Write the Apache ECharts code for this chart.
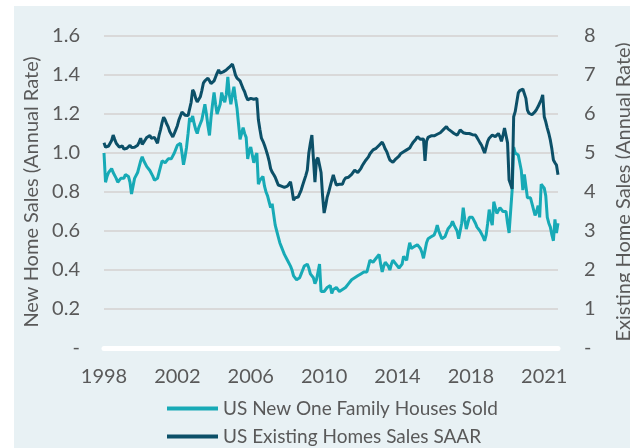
<!DOCTYPE html>
<html>
<head>
<meta charset="utf-8">
<script src="https://cdn.jsdelivr.net/npm/echarts@6/dist/echarts.min.js"></script>
<style>
  html, body { margin: 0; padding: 0; background: #ffffff; overflow: hidden; }
  #main { position: absolute; left: 14px; top: 6px; width: 616px; height: 442px; background: #e8f1f4; }
</style>
</head>
<body>
<div id="main"></div>
<script>
// x-axis tick labels, one every 48 months
var tickLabels = ["1998", "2002", "2006", "2010", "2014", "2018", "2021"];

// US New One Family Houses Sold, millions (monthly)
var newHomeSales = [
  1.0, 0.85, 0.88, 0.9, 0.91, 0.92, 0.9, 0.9, 0.87, 0.85,
  0.86, 0.87, 0.88, 0.87, 0.89, 0.9, 0.88, 0.85, 0.79, 0.83,
  0.87, 0.88, 0.9, 0.93, 0.96, 0.98, 0.96, 0.95, 0.93, 0.92,
  0.91, 0.9, 0.88, 0.86, 0.87, 0.87, 0.9, 0.93, 0.96, 0.95,
  0.95, 0.96, 0.97, 0.98, 0.97, 0.96, 1.0, 1.02, 1.04, 1.03,
  1.05, 1.0, 0.94, 0.98, 1.03, 1.1, 1.18, 1.16, 1.19, 1.15,
  1.12, 1.1, 1.13, 1.15, 1.17, 1.21, 1.25, 1.2, 1.14, 1.09,
  1.18, 1.25, 1.31, 1.25, 1.2, 1.19, 1.25, 1.31, 1.28, 1.26,
  1.3, 1.39, 1.3, 1.25, 1.3, 1.34, 1.28, 1.23, 1.15, 1.07,
  1.1, 1.13, 1.1, 1.08, 0.97, 1.01, 1.03, 1.04, 0.95, 0.98,
  1.0, 0.84, 0.86, 0.87, 0.88, 0.83, 0.8, 0.78, 0.75, 0.72,
  0.74, 0.73, 0.63, 0.6, 0.57, 0.54, 0.52, 0.5, 0.48, 0.47,
  0.45, 0.44, 0.42, 0.4, 0.37, 0.36, 0.35, 0.35, 0.36, 0.38,
  0.4, 0.42, 0.43, 0.43, 0.41, 0.38, 0.37, 0.36, 0.33, 0.35,
  0.39, 0.43, 0.29, 0.3, 0.29, 0.29, 0.31, 0.3, 0.32, 0.28,
  0.3, 0.31, 0.31, 0.3, 0.29, 0.3, 0.3, 0.31, 0.31, 0.32,
  0.33, 0.34, 0.35, 0.35, 0.36, 0.36, 0.37, 0.37, 0.38, 0.38,
  0.39, 0.39, 0.39, 0.42, 0.45, 0.44, 0.44, 0.44, 0.46, 0.47,
  0.48, 0.43, 0.39, 0.42, 0.44, 0.43, 0.42, 0.4, 0.43, 0.45,
  0.44, 0.43, 0.43, 0.41, 0.4, 0.43, 0.47, 0.46, 0.45, 0.5,
  0.54, 0.51, 0.5, 0.52, 0.52, 0.53, 0.52, 0.51, 0.49, 0.46,
  0.5, 0.54, 0.56, 0.57, 0.57, 0.58, 0.58, 0.6, 0.63, 0.6,
  0.58, 0.56, 0.57, 0.57, 0.59, 0.61, 0.62, 0.63, 0.65, 0.63,
  0.62, 0.6, 0.56, 0.6, 0.64, 0.72, 0.66, 0.61, 0.64, 0.67,
  0.67, 0.67, 0.66, 0.64, 0.62, 0.61, 0.6, 0.59, 0.57, 0.55,
  0.58, 0.64, 0.71, 0.66, 0.63, 0.75, 0.72, 0.69, 0.7, 0.72,
  0.71, 0.7, 0.7, 0.7, 0.64, 0.59, 0.59, 0.81, 1.03, 1.0,
  0.99, 0.99, 0.95, 0.91, 0.81, 0.89, 0.83, 0.77, 0.77, 0.77,
  0.74, 0.71, 0.68, 0.7, 0.73, 0.67, 0.84, 0.84, 0.82, 0.78,
  0.67, 0.64, 0.62, 0.58, 0.55, 0.66, 0.59, 0.64
];

// US Existing Homes Sales SAAR, millions (monthly)
var existingHomeSales = [
  5.26, 5.15, 5.12, 5.18, 5.2, 5.32, 5.46, 5.35, 5.25, 5.2,
  5.15, 5.12, 5.18, 5.1, 5.15, 5.12, 5.16, 5.2, 5.14, 5.12,
  5.15, 5.2, 5.2, 5.28, 5.38, 5.22, 5.28, 5.34, 5.4, 5.38,
  5.45, 5.38, 5.35, 5.4, 5.42, 5.25, 5.45, 5.6, 5.78, 5.92,
  5.85, 5.75, 5.67, 5.55, 5.48, 5.41, 5.5, 5.6, 5.7, 5.85,
  5.95, 6.05, 6.0, 5.97, 6.0, 5.96, 5.98, 6.3, 6.62, 6.55,
  6.4, 6.31, 6.36, 6.44, 6.6, 6.79, 6.85, 6.88, 6.92, 6.85,
  6.78, 6.74, 6.85, 6.95, 7.05, 7.13, 7.05, 7.0, 7.08, 7.1,
  7.13, 7.15, 7.2, 7.22, 7.28, 7.15, 7.0, 6.92, 6.88, 6.85,
  6.75, 6.65, 6.57, 6.45, 6.36, 6.38, 6.4, 6.41, 6.38, 6.42,
  6.4, 5.85, 5.6, 5.38, 5.3, 5.2, 5.08, 4.95, 4.8, 4.6,
  4.51, 4.45, 4.38, 4.28, 4.18, 4.15, 4.15, 4.13, 4.12, 4.15,
  4.15, 4.2, 4.26, 4.05, 3.79, 3.85, 3.9, 3.87, 3.92, 4.05,
  4.18, 4.3, 4.42, 4.56, 5.0, 5.25, 5.46, 4.85, 4.25, 4.82,
  4.88, 4.9, 4.5, 3.9, 3.46, 3.65, 3.87, 4.0, 4.15, 4.3,
  4.44, 4.3, 4.18, 4.22, 4.2, 4.2, 4.2, 4.3, 4.36, 4.32,
  4.38, 4.4, 4.45, 4.5, 4.56, 4.55, 4.5, 4.51, 4.6, 4.68,
  4.74, 4.8, 4.85, 4.9, 4.98, 5.02, 5.08, 5.1, 5.12, 5.15,
  5.2, 5.24, 5.28, 5.2, 5.1, 5.03, 4.92, 4.82, 4.77, 4.76,
  4.8, 4.85, 4.9, 4.92, 4.98, 5.0, 5.03, 5.08, 5.08, 5.1,
  5.13, 5.2, 5.26, 5.3, 5.35, 5.42, 5.38, 5.35, 5.33, 5.36,
  4.8, 5.3, 5.4, 5.42, 5.44, 5.46, 5.44, 5.46, 5.48, 5.5,
  5.52, 5.55, 5.6, 5.64, 5.68, 5.62, 5.58, 5.56, 5.55, 5.5,
  5.48, 5.46, 5.52, 5.59, 5.55, 5.52, 5.51, 5.5, 5.52, 5.5,
  5.48, 5.47, 5.46, 5.46, 5.4, 5.33, 5.26, 5.2, 5.1, 5.0,
  5.15, 5.3, 5.38, 5.4, 5.46, 5.44, 5.42, 5.46, 5.5, 5.42,
  5.3, 5.45, 5.64, 5.6, 5.26, 4.31, 4.2, 4.08, 5.93, 6.06,
  6.06, 6.54, 6.6, 6.62, 6.64, 6.67, 6.4, 6.1, 6.02, 5.97,
  5.98, 6.02, 6.06, 6.12, 6.19, 6.28, 6.36, 6.49, 5.93, 5.8,
  5.64, 5.5, 5.33, 5.1, 4.82, 4.75, 4.69, 4.44
];

// monthly categories from Jan 1998
var months = [];
for (var i = 0; i < newHomeSales.length; i++) {
  var y = 1998 + Math.floor(i / 12);
  var m = (i % 12) + 1;
  months.push(y + "-" + (m < 10 ? "0" + m : m));
}

var textColor = "#595959";
var font = "Lato, 'Open Sans', sans-serif";
var legendText = { color: textColor, fontSize: 19, fontFamily: font };

var myChart = echarts.init(document.getElementById("main"));

var option = {
  animation: false,
  textStyle: { fontFamily: font },
  grid: { left: 90, right: 72, top: 30, bottom: 100, outerBoundsMode: "none", containLabel: false },
  // two single-item legends stacked like the reference
  legend: [
    {
      left: 148, top: 388, itemWidth: 51, itemHeight: 4, itemGap: 6, icon: "rect",
      textStyle: legendText,
      data: ["US New One Family Houses Sold"]
    },
    {
      left: 148, top: 416, itemWidth: 51, itemHeight: 4, itemGap: 6, icon: "rect",
      textStyle: legendText,
      data: ["US Existing Homes Sales SAAR"]
    }
  ],
  xAxis: {
    type: "category",
    data: months,
    boundaryGap: false,
    axisLine: { show: true, lineStyle: { color: "#ffffff", width: 5 } },
    axisTick: { show: false },
    splitLine: { show: false },
    axisLabel: {
      color: textColor,
      fontSize: 20,
      margin: 19,
      interval: function (index) { return index % 48 === 0; },
      formatter: function (val, idx) { return tickLabels[Math.round(idx / 48)]; }
    }
  },
  yAxis: [
    {
      type: "value",
      min: 0,
      max: 1.6,
      interval: 0.2,
      name: "New Home Sales (Annual Rate)",
      nameLocation: "middle",
      nameRotate: 90,
      nameGap: 62,
      nameTextStyle: { color: textColor, fontSize: 20 },
      axisLine: { show: false },
      axisTick: { show: false },
      splitLine: { lineStyle: { color: "#d9d9d9", width: 2 } },
      axisLabel: {
        color: textColor,
        fontSize: 20,
        margin: 24,
        formatter: function (v) { return v === 0 ? "-" : v.toFixed(1); }
      }
    },
    {
      type: "value",
      min: 0,
      max: 8,
      interval: 1,
      name: "Existing Home Sales (Annual Rate)",
      nameLocation: "middle",
      nameRotate: 90,
      nameGap: 56,
      nameTextStyle: { color: textColor, fontSize: 20 },
      axisLine: { show: false },
      axisTick: { show: false },
      splitLine: { show: false },
      axisLabel: {
        color: textColor,
        fontSize: 20,
        margin: 26,
        formatter: function (v) { return v === 0 ? "-" : String(v); }
      }
    }
  ],
  series: [
    {
      name: "US New One Family Houses Sold",
      type: "line",
      yAxisIndex: 0,
      data: newHomeSales,
      showSymbol: false,
      lineStyle: { color: "#17aab6", width: 3 },
      itemStyle: { color: "#17aab6" },
      z: 3
    },
    {
      name: "US Existing Homes Sales SAAR",
      type: "line",
      yAxisIndex: 1,
      data: existingHomeSales,
      showSymbol: false,
      lineStyle: { color: "#0c5068", width: 3 },
      itemStyle: { color: "#0c5068" },
      z: 4
    }
  ]
};

myChart.setOption(option);
</script>
</body>
</html>
